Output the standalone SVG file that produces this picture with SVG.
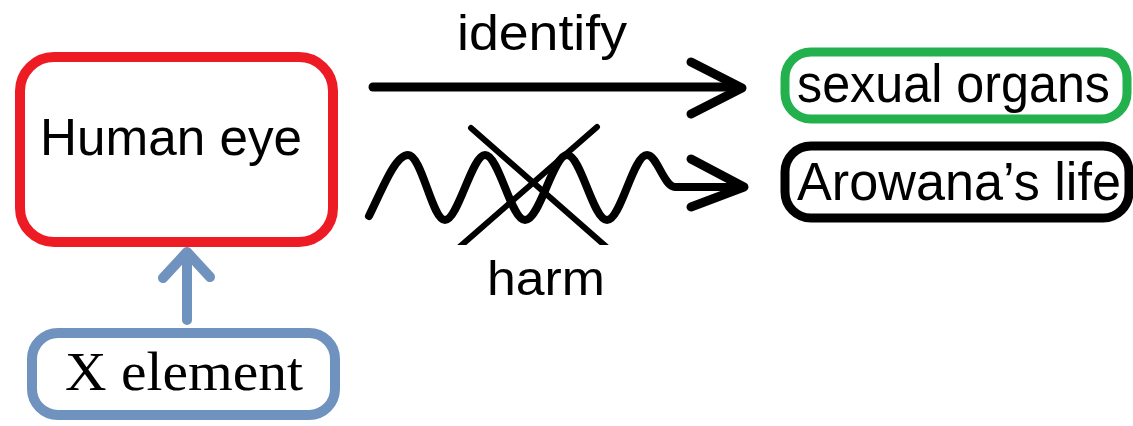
<svg xmlns="http://www.w3.org/2000/svg" width="1133" height="426" viewBox="0 0 1133 426">
<style>
.lbl{font-family:"Liberation Sans",Arial,sans-serif;fill:#000}
.ser{font-family:"Liberation Serif","Times New Roman",serif;fill:#000}
.box{fill:#fff}
.blk{fill:none;stroke:#000;stroke-linecap:round;stroke-linejoin:round}
</style>
<defs>
<clipPath id="crossClip"><rect x="440" y="100" width="200" height="145"/></clipPath>
</defs>
<rect width="1133" height="426" fill="#fff"/>
<g id="human-eye">
<rect class="box" x="20" y="57" width="313" height="185" rx="34" stroke="#ED1C24" stroke-width="10"/>
<text class="lbl" x="40" y="155" font-size="52" textLength="262" lengthAdjust="spacingAndGlyphs">Human eye</text>
</g>
<g id="x-element">
<rect class="box" x="32" y="333" width="303" height="82" rx="26" stroke="#7092BE" stroke-width="10"/>
<text class="ser" x="65" y="390" font-size="55" textLength="238" lengthAdjust="spacingAndGlyphs">X element</text>
</g>
<g id="sexual-organs">
<rect class="box" x="785" y="52" width="342" height="67" rx="26" stroke="#22B14C" stroke-width="9"/>
<text class="lbl" x="797" y="102" font-size="53" textLength="313" lengthAdjust="spacingAndGlyphs">sexual organs</text>
</g>
<g id="arowana-life">
<rect class="box" x="785" y="146" width="344" height="72" rx="26" stroke="#000" stroke-width="9"/>
<text class="lbl" x="797" y="200" font-size="53" textLength="324" lengthAdjust="spacingAndGlyphs">Arowana’s life</text>
</g>
<g id="connectors">
<g id="identify-arrow">
<path class="blk" stroke-width="9" d="M373,87 L735,87"/>
<path class="blk" stroke-width="9" d="M691,62 L742,88 L691,114"/>
<text class="lbl" x="457" y="50" font-size="50" textLength="170" lengthAdjust="spacingAndGlyphs">identify</text>
</g>
<g id="harm-arrow">
<path class="blk" stroke-width="8" d="M369,216 C382,190 395,155 408,155 C422,155 432,220 445,220 C458,220 472,155 485,155 C499,155 511,220 525,220 C540,220 553,155 567,155 C581,155 593,220 607,220 C621,220 633,155 647,155 C657,155 664,187 675,187 L738,187"/>
<path class="blk" stroke-width="9" d="M691,159 L744,187 L691,207"/>
<g clip-path="url(#crossClip)">
<path class="blk" stroke-width="6" stroke-linecap="butt" d="M471,128 L610,250 M597,127 L456,250"/>
</g>
<text class="lbl" x="487" y="295" font-size="49" textLength="118" lengthAdjust="spacingAndGlyphs">harm</text>
</g>
<g id="x-to-eye-arrow">
<path fill="none" stroke="#7092BE" stroke-width="10" stroke-linecap="round" stroke-linejoin="round" d="M187,320 L187,252 M163,278 L187,252 L210,277"/>
</g>
</g>
</svg>
